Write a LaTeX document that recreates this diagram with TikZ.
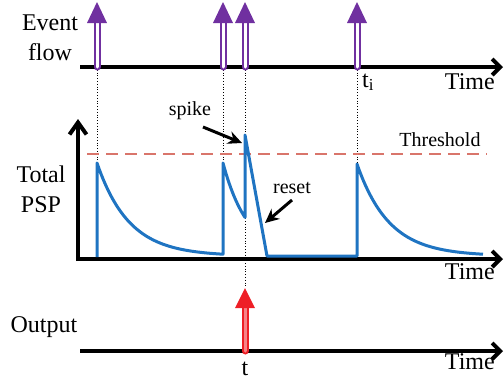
\documentclass[tikz,border=0pt]{standalone}
\usepackage{fontspec}
\setmainfont{Liberation Serif}
\usetikzlibrary{arrows.meta,calc}
\definecolor{evviolet}{HTML}{7030A0}
\definecolor{pspbleu}{HTML}{1F74C2}
\definecolor{seuilrouge}{HTML}{D9756B}
\definecolor{outrouge}{HTML}{EE1F26}

\begin{document}
\begin{tikzpicture}[x=1pt, y=-1pt,
  every node/.style={font=\fontsize{24}{30}\selectfont, inner sep=0pt},
  petit/.style={font=\fontsize{20}{24}\selectfont},
  axe/.style={line width=4pt, -{Straight Barb[length=8pt,width=16pt]}},
  guide/.style={dotted, line width=0.8pt},
  evfleche/.style={evviolet, line width=2pt, double=white, double distance=3pt, line cap=round},
  outfleche/.style={outrouge, line width=2pt, double=outrouge!55, double distance=3pt, line cap=round},
  psp/.style={pspbleu, line width=3pt, line join=round},
  fleche/.style={line width=3pt, -{Stealth[length=14pt,width=13pt]}}]
  \useasboundingbox (0,0) rectangle (504,384);
  % coordonnees des evenements
  \foreach \x/\n in {97/a,223/b,245/c,357/d} \coordinate (ev\n) at (\x,67);
  \coordinate (outbase) at (245,351);
  \coordinate (outtip) at (245,288);
  % pointilles
  \draw[guide] (eva) -- (97,163);
  \draw[guide] (evb) -- (223,163);
  \draw[guide] (evd) -- (357,164);
  \draw[guide] (evc) -- (outtip);
  % axes
  \draw[axe] (80,67) -- (503,67);
  \draw[axe] (78,259) -- (503,259);
  \draw[axe, -{Straight Barb[length=12pt,width=17pt]}] (78,261) -- (78,119);
  \draw[axe] (80,351) -- (503,351);
  % seuil
  \draw[seuilrouge, line width=1.5pt, dash pattern=on 12pt off 7pt] (87,154) -- (487,154);
  \node[petit, anchor=base] (seuil) at (440,146) {Threshold};
  % potentiel total
  \draw[psp] (97,257) -- (97,163)
    -- plot[domain=0:126, samples=60] ({97+\x},{256-93*exp(-\x/32)})
    -- (223,163)
    -- plot[domain=0:22, samples=15] ({223+\x},{256-93*exp(-\x/25)})
    -- (245,135) -- (267,256) -- (357,256) -- (357,164)
    -- plot[domain=0:126, samples=60] ({357+\x},{256-92*exp(-\x/32)});
  % fleches d'entree
  \foreach \n in {a,b,c,d} {
    \draw[evfleche] (ev\n) -- ($(ev\n)+(0,-44)$);
    \fill[evviolet] ($(ev\n)+(-10,-44)$) -- ($(ev\n)+(0,-65)$) -- ($(ev\n)+(10,-44)$) -- cycle;
  }
  % sortie
  \draw[outfleche] (outbase) -- ($(outtip)+(0,20)$);
  \fill[outrouge] ($(outtip)+(-10,20)$) -- (outtip) -- ($(outtip)+(10,20)$) -- cycle;
  % spike / reset
  \node[petit, anchor=base] (spikelab) at (190,115) {spike};
  \coordinate (spkfrom) at (203,127);
  \coordinate (spkto) at (242,143);
  \draw[fleche] (spkfrom) -- (spkto);
  \node[petit, anchor=base] (resetlab) at (292,193) {reset};
  \coordinate (rstfrom) at (292,200);
  \coordinate (rstto) at (265,223);
  \draw[fleche] (rstfrom) -- (rstto);
  % textes
  \node[align=center] (evlab) at (50,38) {Event\\flow};
  \node[align=center] (psplab) at (41,189) {Total\\PSP};
  \node[anchor=base] (outlab) at (44,332) {Output};
  \node[anchor=base east] (time1) at (495,89) {Time};
  \node[anchor=base east] (time2) at (495,279) {Time};
  \node[anchor=base east] (time3) at (495,369) {Time};
  \node[anchor=base west] (tilab) at (362,87) {t\textsubscript{i}};
  \node[anchor=base] (tlab) at (245,375) {t};
\end{tikzpicture}
\end{document}
